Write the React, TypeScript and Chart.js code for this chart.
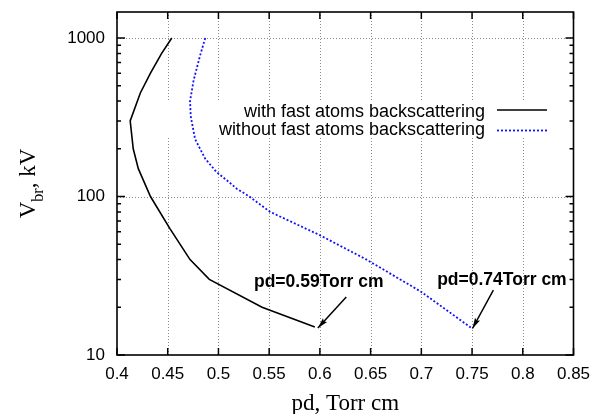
import React, { useEffect, useRef } from "react";
import { Chart, registerables } from "chart.js";

Chart.register(...registerables);

// ---- data ----
const withX = [0.454, 0.444, 0.433, 0.423, 0.413, 0.416, 0.421, 0.433, 0.452, 0.472, 0.491, 0.543, 0.595];
const withY = [1000, 800, 600, 450, 300, 200, 150, 100, 63, 40, 30, 20, 15];
const withoutX = [0.487, 0.482, 0.4755, 0.472, 0.4727, 0.477, 0.487, 0.498, 0.51, 0.518, 0.5295, 0.551, 0.6, 0.646, 0.7, 0.75];
const withoutY = [1000, 780, 540, 400, 320, 230, 173, 143, 124, 112, 101, 80, 57, 40, 25, 14.7];
const seriesLabels = ["with fast atoms backscattering", "without fast atoms backscattering"];
const xTicks = [0.4, 0.45, 0.5, 0.55, 0.6, 0.65, 0.7, 0.75, 0.8, 0.85];
const yTicks = [10, 100, 1000];
const yMinorTicks = [20, 30, 40, 50, 60, 70, 80, 90, 200, 300, 400, 500, 600, 700, 800, 900];
const xTitle = "pd, Torr cm";
const yTitleMain = "V";
const yTitleSub = "br";
const yTitleRest = ", kV";
const annotationTexts = ["pd=0.59Torr cm", "pd=0.74Torr cm"];
const annotationTextX = [0.535, 0.7156];
const annotationTextY = [29, 29.7];
const arrowFromX = [0.626, 0.771];
const arrowFromY = [23.2, 25.7];
const arrowToX = [0.598, 0.7504];
const arrowToY = [14.8, 14.7];

const SANS = "'Liberation Sans', Arial, Helvetica, sans-serif";
const SERIF = "'Liberation Serif', 'Times New Roman', serif";

const framePlugin = {
  id: "gnuFrame",
  beforeDatasetsDraw(chart: any) {
    const { ctx, chartArea: a, scales } = chart;
    const x = scales.x, y = scales.y;
    ctx.save();
    ctx.strokeStyle = "#8a8a8a";
    ctx.lineWidth = 1;
    ctx.setLineDash([1, 2]);
    ctx.beginPath();
    for (const v of xTicks) {
      const px = Math.round(x.getPixelForValue(v)) + 0.5;
      if (px <= a.left + 2 || px >= a.right - 2) continue;
      ctx.moveTo(px, a.top);
      ctx.lineTo(px, a.bottom);
    }
    for (const v of yTicks) {
      const py = Math.round(y.getPixelForValue(v)) + 0.5;
      if (py >= a.bottom - 2 || py <= a.top + 2) continue;
      ctx.moveTo(a.left, py);
      ctx.lineTo(a.right, py);
    }
    ctx.stroke();
    ctx.setLineDash([]);
    // key box area clears the grid
    ctx.fillStyle = "#ffffff";
    ctx.fillRect(160, 101, 406, 36);
    ctx.restore();
  },
  afterDatasetsDraw(chart: any) {
    const { ctx, chartArea: a, scales } = chart;
    const x = scales.x, y = scales.y;
    ctx.save();
    ctx.strokeStyle = "#000";
    ctx.lineWidth = 1.5;
    ctx.beginPath();
    for (const v of xTicks) {
      const px = x.getPixelForValue(v);
      ctx.moveTo(px, a.bottom);
      ctx.lineTo(px, a.bottom - 7);
      ctx.moveTo(px, a.top);
      ctx.lineTo(px, a.top + 7);
    }
    for (const v of yTicks) {
      const py = y.getPixelForValue(v);
      ctx.moveTo(a.left, py);
      ctx.lineTo(a.left + 8, py);
      ctx.moveTo(a.right, py);
      ctx.lineTo(a.right - 8, py);
    }
    for (const v of yMinorTicks) {
      const py = y.getPixelForValue(v);
      ctx.moveTo(a.left, py);
      ctx.lineTo(a.left + 4, py);
      ctx.moveTo(a.right, py);
      ctx.lineTo(a.right - 4, py);
    }
    ctx.stroke();
    ctx.lineWidth = 1.6;
    ctx.strokeRect(a.left, a.top, a.right - a.left, a.bottom - a.top);
    ctx.restore();
  },
  afterDraw(chart: any) {
    const { ctx, chartArea: a, scales } = chart;
    const x = scales.x, y = scales.y;
    ctx.save();
    // key
    ctx.font = `18px ${SANS}`;
    ctx.fillStyle = "#000";
    ctx.textAlign = "right";
    ctx.textBaseline = "alphabetic";
    chart.data.datasets.forEach((ds: any, i: number) => {
      const base = 116.7 + 18.5 * i;
      const ly = 110 + 20.5 * i;
      ctx.fillText(ds.label, 485, base);
      ctx.save();
      ctx.strokeStyle = ds.borderColor;
      ctx.lineWidth = ds.borderWidth;
      ctx.setLineDash(ds.borderDash || []);
      ctx.beginPath();
      ctx.moveTo(497, ly);
      ctx.lineTo(547, ly);
      ctx.stroke();
      ctx.restore();
    });
    // x title
    ctx.font = `23px ${SERIF}`;
    ctx.textAlign = "center";
    ctx.fillText(xTitle, (a.left + a.right) / 2, 410);
    // y title (rotated, with subscript)
    const big = `23px ${SERIF}`;
    const small = `16px ${SERIF}`;
    ctx.font = big;
    const w1 = ctx.measureText(yTitleMain).width;
    const w3 = ctx.measureText(yTitleRest).width;
    ctx.font = small;
    const w2 = ctx.measureText(yTitleSub).width;
    const total = w1 + w2 + w3;
    ctx.translate(35, (a.top + a.bottom) / 2);
    ctx.rotate(-Math.PI / 2);
    ctx.textAlign = "left";
    let cx = -total / 2;
    ctx.font = big;
    ctx.fillText(yTitleMain, cx, 0);
    cx += w1;
    ctx.font = small;
    ctx.fillText(yTitleSub, cx, 8);
    cx += w2;
    ctx.font = big;
    ctx.fillText(yTitleRest, cx, 0);
    ctx.setTransform(1, 0, 0, 1, 0, 0);
    // annotations
    ctx.font = `bold 17.5px ${SANS}`;
    ctx.textAlign = "left";
    ctx.textBaseline = "middle";
    ctx.fillStyle = "#000";
    ctx.strokeStyle = "#000";
    for (let i = 0; i < annotationTexts.length; i++) {
      ctx.fillText(annotationTexts[i], x.getPixelForValue(annotationTextX[i]), y.getPixelForValue(annotationTextY[i]));
      const x1 = x.getPixelForValue(arrowFromX[i]);
      const y1 = y.getPixelForValue(arrowFromY[i]);
      const x2 = x.getPixelForValue(arrowToX[i]);
      const y2 = y.getPixelForValue(arrowToY[i]);
      ctx.lineWidth = 1.5;
      ctx.beginPath();
      ctx.moveTo(x1, y1);
      ctx.lineTo(x2, y2);
      ctx.stroke();
      const ang = Math.atan2(y2 - y1, x2 - x1);
      const hl = 11, ha = 0.26;
      ctx.beginPath();
      ctx.moveTo(x2, y2);
      ctx.lineTo(x2 - hl * Math.cos(ang - ha), y2 - hl * Math.sin(ang - ha));
      ctx.lineTo(x2 - hl * 0.8 * Math.cos(ang), y2 - hl * 0.8 * Math.sin(ang));
      ctx.lineTo(x2 - hl * Math.cos(ang + ha), y2 - hl * Math.sin(ang + ha));
      ctx.closePath();
      ctx.fill();
    }
    ctx.restore();
  },
};

export default function App() {
  const ref = useRef<HTMLCanvasElement>(null);
  useEffect(() => {
    if (!ref.current) return;
    const chart = new Chart(ref.current, {
      type: "line",
      data: {
        datasets: [
          {
            label: seriesLabels[0],
            data: withX.map((v, i) => ({ x: v, y: withY[i] })),
            borderColor: "#000000",
            borderWidth: 1.6,
            pointRadius: 0,
            tension: 0,
            fill: false,
          },
          {
            label: seriesLabels[1],
            data: withoutX.map((v, i) => ({ x: v, y: withoutY[i] })),
            borderColor: "#1010ff",
            borderWidth: 1.8,
            borderDash: [2, 2],
            pointRadius: 0,
            tension: 0,
            fill: false,
          },
        ],
      },
      options: {
        responsive: false,
        animation: false,
        devicePixelRatio: 1,
        layout: { padding: { top: 12, right: 33.5, left: 0, bottom: 0 } },
        plugins: { legend: { display: false }, tooltip: { enabled: false }, title: { display: false } },
        scales: {
          x: {
            type: "linear",
            min: 0.4,
            max: 0.85,
            afterBuildTicks: (s: any) => {
              s.ticks = xTicks.map((v) => ({ value: v }));
            },
            afterFit: (s: any) => {
              s.height = 59;
              s.paddingLeft = 0;
              s.paddingRight = 0;
            },
            grid: { display: false, drawTicks: false },
            border: { display: false },
            ticks: {
              autoSkip: false,
              maxRotation: 0,
              padding: 9,
              color: "#000",
              font: { family: SANS, size: 17 },
              callback: (v: any) => String(parseFloat(Number(v).toFixed(2))),
            },
          },
          y: {
            type: "logarithmic",
            min: 10,
            max: 1460,
            afterBuildTicks: (s: any) => {
              s.ticks = yTicks.map((v) => ({ value: v }));
            },
            afterFit: (s: any) => {
              s.width = 117;
              s.paddingTop = 0;
              s.paddingBottom = 0;
            },
            grid: { display: false, drawTicks: false },
            border: { display: false },
            ticks: {
              autoSkip: false,
              padding: 12,
              color: "#000",
              font: { family: SANS, size: 17 },
              callback: (v: any) => String(v),
            },
          },
        },
      },
      plugins: [framePlugin],
    });
    return () => chart.destroy();
  }, []);
  return (
    <div style={{ position: "absolute", left: 0, top: 0, width: 607, height: 414, background: "#fff" }}>
      <canvas ref={ref} width={607} height={414} style={{ width: 607, height: 414 }} />
    </div>
  );
}
